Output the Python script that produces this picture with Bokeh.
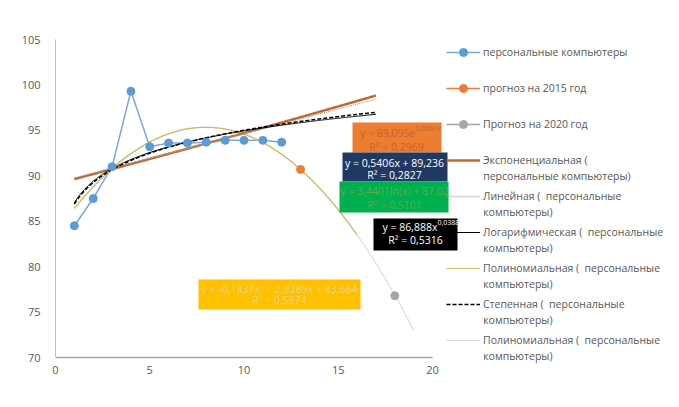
import numpy as np
from bokeh.plotting import figure
from bokeh.models import Range1d, Legend, LegendItem, Label, BoxAnnotation
from bokeh.embed import file_html
from bokeh.resources import INLINE

# ---------------- data ----------------
x_pc = [1, 2, 3, 4, 5, 6, 7, 8, 9, 10, 11, 12]
y_pc = [84.5, 87.5, 91.0, 99.3, 93.2, 93.6, 93.6, 93.7, 93.9, 93.9, 93.9, 93.7]
x_2015 = [13]
y_2015 = [90.7]
x_2020 = [18]
y_2020 = [76.8]

x_ticks = [0, 5, 10, 15, 20]
y_ticks = [70, 75, 80, 85, 90, 95, 100, 105]
x_bounds = [0, 20]
y_bounds = [70, 105]

exp_coef = [89.095, 0.0061]          # y = a*e^(b x)
lin_coef = [0.5406, 89.236]          # y = a x + b
log_coef = [3.4401, 87.02]           # y = a ln(x) + b
pow_coef = [86.888, 0.0388]          # y = a x^b
poly_coef = [-0.1837, 2.9289, 83.664]  # y = a x^2 + b x + c
trend_span = [1, 17]
poly_span = [1, 16]
poly2_span = [1, 19]

labels_trend = {
    "exp": ("y = 89,095e", "0,0061x", "R² = 0,2969"),
    "lin": ("y = 0,5406x + 89,236", "", "R² = 0,2827"),
    "log": ("y = 3,4401ln(x) + 87,02", "", "R² = 0,5101"),
    "pow": ("y = 86,888x", "0,0388", "R² = 0,5316"),
    "poly": ("y = -0,1837x² + 2,9289x + 83,664", "", "R² = 0,5874"),
}

legend_lines1 = [
    "персональные компьютеры",
    "прогноз на 2015 год",
    "Прогноз на 2020 год",
    "Экспоненциальная (",
    "Линейная (  персональные",
    "Логарифмическая (  персональные",
    "Полиномиальная (  персональные",
    "Степенная (  персональные",
    "Полиномиальная (  персональные",
]
legend_lines2 = [None, None, None, "персональные компьютеры)", "компьютеры)",
                 "компьютеры)", "компьютеры)", "компьютеры)", "компьютеры)"]

# ---------------- geometry (page px: x=0 at 55, x=20 at 432; y=105 at 39, y=70 at 357) ----------------
W, H = 679, 407
L, T = 55, 39                 # frame left/top
FW = W - L                    # frame reaches the right edge
FB = 364                      # frame bottom
FH = FB - T
PXX = 377 / 20.0              # px per x unit
PXY = 318 / 35.0              # px per y unit
FONT = "Open Sans"
GREY = "#595959"
AXIS = "#BFBFBF"


def dx(px):  # page pixel -> data x
    return (px - L) / PXX


def dy(py):  # page pixel -> data y
    return 105 - (py - T) / PXY


p = figure(frame_width=FW, frame_height=FH,
           min_border_left=L, min_border_top=T,
           min_border_right=0, min_border_bottom=H - FB,
           x_range=Range1d(0, FW / PXX), y_range=Range1d(105 - FH / PXY, 105),
           output_backend="svg", toolbar_location=None)
p.xgrid.visible = False
p.ygrid.visible = False
p.outline_line_color = None
p.background_fill_color = "white"
p.border_fill_color = "white"

for ax, ticks, bnds in ((p.xaxis[0], x_ticks, x_bounds), (p.yaxis[0], y_ticks, y_bounds)):
    ax.ticker = ticks
    ax.bounds = tuple(bnds)
    ax.major_tick_line_color = None
    ax.minor_tick_line_color = None
    ax.axis_line_color = AXIS
    ax.major_label_text_font = FONT
    ax.major_label_text_font_size = "11px"
    ax.major_label_text_color = GREY
p.xaxis.axis_line_color = None
p.yaxis.major_label_standoff = 9
p.xaxis.major_label_standoff = -5

# horizontal axis base line at y = 70 spanning x 0..20
p.segment(x0=[x_bounds[0]], y0=[y_bounds[0]], x1=[x_bounds[1]], y1=[y_bounds[0]],
          line_color="#A6A6A6", line_width=1.5)

# ---------------- series and trendlines ----------------
xt = np.linspace(trend_span[0], trend_span[1], 300)
xp = np.linspace(poly_span[0], poly_span[1], 300)
xp2 = np.linspace(poly2_span[0], poly2_span[1], 300)

r_line_pc = p.line(x_pc, y_pc, line_color="#7EA6D8", line_width=1.5)

r_poly2 = p.line(xp2, np.polyval(poly_coef, xp2), line_color="#D9DEE6", line_width=1.2)
r_poly = p.line(xp, np.polyval(poly_coef, xp), line_color="#CDBB5C", line_width=1.2)
r_exp = p.line(xt, exp_coef[0] * np.exp(exp_coef[1] * xt), line_color="#BE6A35", line_width=2.5)
r_lin = p.line(xt, lin_coef[0] * xt + lin_coef[1], line_color="#A6A6A6", line_width=1.3, line_dash="1 1")
r_log = p.line(xt, log_coef[0] * np.log(xt) + log_coef[1], line_color="black", line_width=1)
r_pow = p.line(xt, pow_coef[0] * xt ** pow_coef[1], line_color="black", line_width=1.5, line_dash="4 2")

r_pts_pc = p.scatter(x_pc, y_pc, size=8, fill_color="#5B9BD5", line_color="#5B9BD5")
r_l15 = p.line(x_2015, y_2015, line_color="#ED7D31", line_width=1.5)
r_p15 = p.scatter(x_2015, y_2015, size=8, fill_color="#ED7D31", line_color="#ED7D31")
r_l20 = p.line(x_2020, y_2020, line_color="#A5A5A5", line_width=1.5)
r_p20 = p.scatter(x_2020, y_2020, size=8, fill_color="#A5A5A5", line_color="#A5A5A5")

# ---------------- equation boxes ----------------
boxes = [
    # key, (left, right, top, bottom) page px, fill, text colour, line1 y, line2 y, center x
    ("exp", (352, 441, 122, 152), "#ED7D31", "#C0652A", 132, 146, 396),
    ("lin", (342, 447, 152, 181), "#1F3864", "white", 162, 174, 394),
    ("log", (339, 448, 181, 212), "#00B050", "#5AAE4A", 190, 204, 394),
    ("pow", (373, 457, 218, 250), "black", "white", 226, 239, 415),
    ("poly", (198, 360, 279, 309), "#FFC000", "#E9D48A", 288, 299, 279),
]
for key, (bl, br, bt, bb), fill, tcol, y1, y2, xc in boxes:
    p.add_layout(BoxAnnotation(left=dx(bl), right=dx(br), top=dy(bt), bottom=dy(bb),
                               fill_color=fill, fill_alpha=1, line_color=None))
    l1, sup, l2 = labels_trend[key]
    if sup:
        xr = 415 if key == "exp" else 437
        p.add_layout(Label(x=dx(xr), y=dy(y1), text=l1, text_align="right", text_baseline="middle",
                           text_font=FONT, text_font_size="10.5px", text_color=tcol))
        p.add_layout(Label(x=dx(xr), y=dy(y1 - 4), text=sup, text_align="left", text_baseline="middle",
                           text_font=FONT, text_font_size="7px", text_color=tcol))
    else:
        p.add_layout(Label(x=dx(xc), y=dy(y1), text=l1, text_align="center", text_baseline="middle",
                           text_font=FONT, text_font_size="10.5px", text_color=tcol))
    p.add_layout(Label(x=dx(xc), y=dy(y2), text=l2, text_align="center", text_baseline="middle",
                       text_font=FONT, text_font_size="10.5px", text_color=tcol))

# ---------------- legend ----------------
renderer_sets = [[r_line_pc, r_pts_pc], [r_l15, r_p15], [r_l20, r_p20], [r_exp], [r_lin],
                 [r_log], [r_poly], [r_pow], [r_poly2]]
items = [LegendItem(label=lab, renderers=rs) for lab, rs in zip(legend_lines1, renderer_sets)]
legend_top = 41.7   # page px
n = len(items)
leg_h = n * 20 + (n - 1) * 16
legend = Legend(items=items, location=(446 - L, round(FB - (legend_top + leg_h))),
                glyph_width=34, glyph_height=20,
                label_height=20, spacing=16, label_standoff=3, padding=0, margin=0,
                border_line_color=None, background_fill_alpha=0,
                label_text_font=FONT, label_text_font_size="10.5px", label_text_color=GREY)
p.add_layout(legend)

first_y = legend_top + 10
for i, l2 in enumerate(legend_lines2):
    if l2:
        p.add_layout(Label(x=dx(482.7), y=dy(first_y + 36 * i + 15.7), text=l2,
                           text_align="left", text_baseline="middle",
                           text_font=FONT, text_font_size="10.5px", text_color=GREY))

open("out.html", "w").write(file_html(p, INLINE))
